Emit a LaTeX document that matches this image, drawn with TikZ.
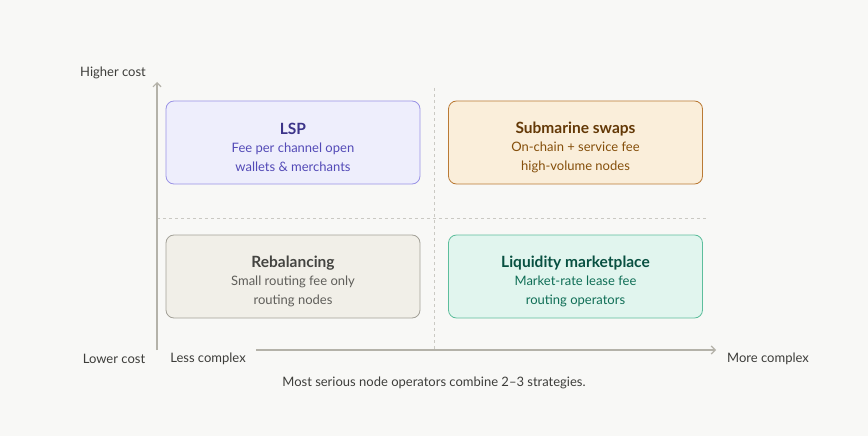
\documentclass[tikz,border=0pt]{standalone}
\usepackage{fontspec}
\setmainfont{Lato}
\usetikzlibrary{arrows.meta}
\definecolor{bg}{HTML}{F8F8F6}
\definecolor{axis}{HTML}{B4B2A9}
\definecolor{lbl}{HTML}{3D3D3A}
\definecolor{pF}{HTML}{EEEEFC}\definecolor{pB}{HTML}{9A93E6}\definecolor{pT}{HTML}{3C3489}\definecolor{pS}{HTML}{534AB7}
\definecolor{oF}{HTML}{FAEEDA}\definecolor{oB}{HTML}{BA7A35}\definecolor{oT}{HTML}{633806}\definecolor{oS}{HTML}{854F0B}
\definecolor{gF}{HTML}{F1EFE8}\definecolor{gB}{HTML}{A3A198}\definecolor{gT}{HTML}{444441}\definecolor{gS}{HTML}{5F5E5A}
\definecolor{tF}{HTML}{E1F5EE}\definecolor{tB}{HTML}{5DBE9C}\definecolor{tT}{HTML}{085041}\definecolor{tS}{HTML}{0F6E56}
\tikzset{
 quad/.style={rounded corners=8pt, line width=0.8pt, minimum width=254pt, minimum height=83pt, inner sep=0pt},
 axlbl/.style={text=lbl, font=\fontsize{13}{15}\selectfont},
 ttl/.style={font=\fontsize{15.5}{18}\selectfont\bfseries},
 sub/.style={font=\fontsize{13}{19}\selectfont, align=center}
}
\begin{document}
\begin{tikzpicture}[x=1pt,y=-1pt]
\fill[bg] (0,0) rectangle (868,436);
\useasboundingbox (0,0) rectangle (868,436);
\draw[axis!70, dash pattern=on 3pt off 3pt, line width=0.5pt] (434,88) -- (434,350);
\draw[axis!70, dash pattern=on 3pt off 3pt, line width=0.5pt] (157,218) -- (708,218);
\coordinate (o) at (157,350);
\coordinate (ytop) at (157,82);
\coordinate (xs) at (256,350);
\coordinate (xe) at (716,350);
\draw[axis, line width=1.2pt, -{Straight Barb[length=4pt,width=8pt]}] (o) -- (ytop);
\draw[axis, line width=1.2pt, -{Straight Barb[length=4pt,width=8pt]}] (xs) -- (xe);
\node[quad, fill=pF, draw=pB] (lsp) at (293,142.5) {};
\node[quad, fill=oF, draw=oB] (sub) at (575.5,142.5) {};
\node[quad, fill=gF, draw=gB] (reb) at (293,276.5) {};
\node[quad, fill=tF, draw=tB] (liq) at (575.5,276.5) {};
\node[ttl, text=pT] (lspT) at (293,129) {LSP};
\node[sub, text=pS] (lspS) at (293,157) {Fee per channel open\\wallets \& merchants};
\node[ttl, text=oT] (subT) at (575.5,129) {Submarine swaps};
\node[sub, text=oS] (subS) at (575.5,157) {On-chain + service fee\\high-volume nodes};
\node[ttl, text=gT] (rebT) at (293,263) {Rebalancing};
\node[sub, text=gS] (rebS) at (293,291) {Small routing fee only\\routing nodes};
\node[ttl, text=tT] (liqT) at (575.5,263) {Liquidity marketplace};
\node[sub, text=tS] (liqS) at (575.5,291) {Market-rate lease fee\\routing operators};
\node[axlbl] (hc) at (113,73) {Higher cost};
\node[axlbl] (lc) at (114,359) {Lower cost};
\node[axlbl] (lx) at (208,359) {Less complex};
\node[axlbl] (mx) at (768,359) {More complex};
\node[axlbl] (cap) at (434,383) {Most serious node operators combine 2–3 strategies.};
\end{tikzpicture}
\end{document}
